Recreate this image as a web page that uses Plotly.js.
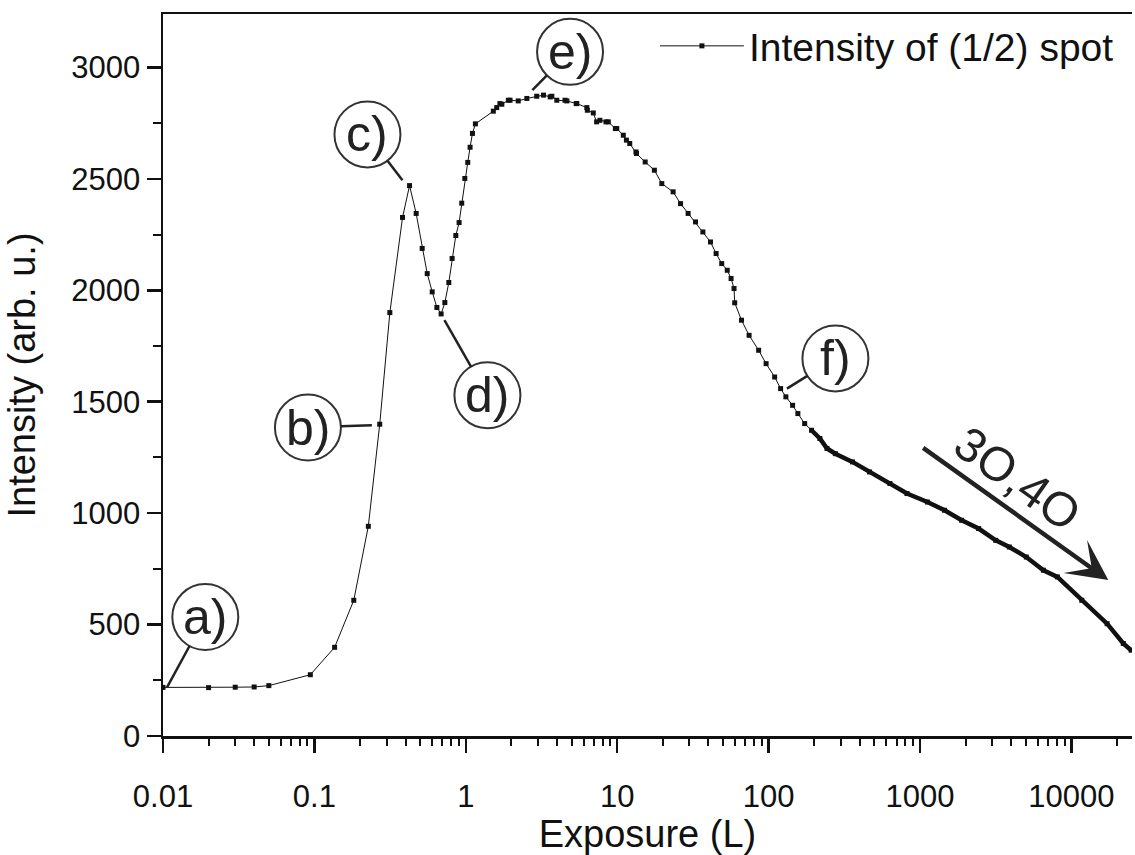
<!DOCTYPE html>
<html>
<head>
<meta charset="utf-8">
<script src="https://cdn.plot.ly/plotly-3.0.1.min.js"></script>
<style>html,body{margin:0;padding:0;background:#fff;}#chart{width:1135px;height:855px;}</style>
</head>
<body>
<div id="chart"></div>
<script>
// ---- data ----
const exposure = [
  0.01, 0.02, 0.03, 0.04, 0.05, 0.094, 0.136, 0.182, 0.227, 0.27,
  0.315, 0.382, 0.425, 0.47, 0.515, 0.556, 0.60, 0.644, 0.687, 0.727,
  0.772, 0.812, 0.859, 0.903, 0.94, 0.985, 1.03, 1.067, 1.106, 1.157,
  1.52, 1.60, 1.68, 1.73, 1.91, 1.96, 2.22, 2.53, 2.94, 3.26,
  3.61, 3.70, 3.99, 4.52, 4.65, 5.36, 5.41, 6.30, 6.35, 6.95,
  7.31, 7.69, 8.43, 8.73, 9.72, 9.93, 10.97, 11.5, 12.1, 13.3,
  13.4, 15.3, 17.6, 19.7, 23.4, 26.2, 29.4, 32.9, 36.8, 41.3,
  45, 49, 53.3, 56.5, 59.1, 59.7, 66.2, 74.3, 85.9, 96.2,
  109.6, 120, 130, 144, 156, 173, 192, 218, 243, 276,
  358, 464, 633, 820, 1119, 1452, 1883, 2438, 3162, 3890,
  5035, 6530, 8070, 11700, 17200, 22000, 24800
];
const intensity = [
  218, 217, 219, 220, 226, 275, 398, 609, 941, 1399,
  1900, 2327, 2470, 2345, 2188, 2075, 1993, 1923, 1894, 1945,
  2035, 2143, 2246, 2304, 2391, 2502, 2574, 2642, 2704, 2747,
  2804, 2820, 2838, 2835, 2853, 2853, 2850, 2861, 2871, 2876,
  2868, 2871, 2853, 2853, 2850, 2838, 2838, 2820, 2808, 2796,
  2756, 2763, 2756, 2756, 2726, 2726, 2696, 2674, 2659, 2621,
  2614, 2576, 2539, 2479, 2442, 2389, 2345, 2307, 2262, 2217,
  2165, 2120, 2090, 2053, 2008, 1944, 1866, 1798, 1731, 1671,
  1611, 1559, 1522, 1484, 1447, 1402, 1372, 1335, 1290, 1267,
  1230, 1185, 1133, 1088, 1050, 1013, 968, 931, 878, 848,
  803, 744, 714, 609, 504, 415, 385
];
const seriesName = 'Intensity of (1/2) spot';
const xTickVals = [0.01, 0.1, 1, 10, 100, 1000, 10000];
const xTickText = ['0.01', '0.1', '1', '10', '100', '1000', '10000'];
const yTickVals = [0, 500, 1000, 1500, 2000, 2500, 3000];
const yTickText = ['0', '500', '1000', '1500', '2000', '2500', '3000'];
const yMinorVals = [250, 750, 1250, 1750, 2250, 2750, 3250];
const calloutLabels = ['a)', 'b)', 'c)', 'd)', 'e)', 'f)'];
const calloutExposure = [0.01, 0.27, 0.425, 0.687, 2.53, 120];
const arrowLabel = '3O,4O';

// ---- decoration geometry (pixel offsets from the labelled point, screen axes) ----
const calloutGeom = [
  {cx: 42.3, cy: -70.4, sx: 4, sy: 0},
  {cx: -71.8, cy: 3.3, sx: -7.8, sy: 1},
  {cx: -42.1, cy: -51.1, sx: -7.1, sy: -5.4},
  {cx: 46.3, cy: 81.3, sx: 3.3, sy: 6.3},
  {cx: 43.2, cy: -46.6, sx: 5.5, sy: -8.3},
  {cx: 54.8, cy: -30.1, sx: 6.3, sy: 0}
];
const R = 33;

// minor ticks for the log axis
const xMinorVals = [];
for (let p = -2; p <= 4; p++) {
  for (let m = 2; m <= 9; m++) xMinorVals.push(m * Math.pow(10, p));
}

const FONT = 'Liberation Sans, Arial, Helvetica, sans-serif';
const INK = '#111111';

const tailX = [], tailY = [];
exposure.forEach((x, i) => { if (x >= 180) { tailX.push(x); tailY.push(intensity[i]); } });

const traces = [
  {
    x: exposure, y: intensity, type: 'scatter', mode: 'lines+markers',
    name: seriesName,
    line: {color: INK, width: 1},
    marker: {symbol: 'square', size: 5, color: INK}
  },
  {
    x: tailX, y: tailY, type: 'scatter', mode: 'lines',
    showlegend: false, hoverinfo: 'skip',
    line: {color: INK, width: 4.5}
  }
];

function f(v) { return v.toFixed(2); }
function circlePath(cx, cy, r) {
  // cy in upward pixel units
  const k = 0.5523 * r;
  return 'M' + f(cx + r) + ',' + f(cy) +
    ' C' + f(cx + r) + ',' + f(cy + k) + ' ' + f(cx + k) + ',' + f(cy + r) + ' ' + f(cx) + ',' + f(cy + r) +
    ' C' + f(cx - k) + ',' + f(cy + r) + ' ' + f(cx - r) + ',' + f(cy + k) + ' ' + f(cx - r) + ',' + f(cy) +
    ' C' + f(cx - r) + ',' + f(cy - k) + ' ' + f(cx - k) + ',' + f(cy - r) + ' ' + f(cx) + ',' + f(cy - r) +
    ' C' + f(cx + k) + ',' + f(cy - r) + ' ' + f(cx + r) + ',' + f(cy - k) + ' ' + f(cx + r) + ',' + f(cy) + ' Z';
}

const shapes = [];
const annotations = [];
calloutLabels.forEach((lab, k) => {
  const idx = exposure.indexOf(calloutExposure[k]);
  const ax = exposure[idx], ay = intensity[idx];
  const g = calloutGeom[k];
  shapes.push({
    type: 'path', xref: 'x', yref: 'y', xsizemode: 'pixel', ysizemode: 'pixel',
    xanchor: ax, yanchor: ay,
    path: circlePath(g.cx, -g.cy, R),
    line: {color: '#333333', width: 2}, fillcolor: 'rgba(0,0,0,0)'
  });
  const vx = g.cx - g.sx, vy = g.cy - g.sy, L = Math.hypot(vx, vy);
  const ex = g.cx - R * vx / L, ey = g.cy - R * vy / L;
  shapes.push({
    type: 'path', xref: 'x', yref: 'y', xsizemode: 'pixel', ysizemode: 'pixel',
    xanchor: ax, yanchor: ay,
    path: 'M' + f(g.sx) + ',' + f(-g.sy) + ' L' + f(ex) + ',' + f(-ey),
    line: {color: '#222222', width: 2.5}
  });
  annotations.push({
    xref: 'x', yref: 'y', x: Math.log10(ax), y: ay,
    xshift: g.cx, yshift: -g.cy, showarrow: false,
    text: lab, xanchor: 'center', yanchor: 'middle',
    font: {family: FONT, size: 50, color: '#222222'}
  });
});

annotations.push({
  xref: 'paper', yref: 'paper', x: 0.9755, y: 0.216,
  ax: -186.6, ay: -133.3, text: '', showarrow: true,
  arrowhead: 3, arrowsize: 1.5, arrowwidth: 4.5, arrowcolor: '#222222'
});
annotations.push({
  xref: 'paper', yref: 'paper', x: 0.8817, y: 0.3569,
  text: arrowLabel, showarrow: false, textangle: 35.5,
  xanchor: 'center', yanchor: 'middle',
  font: {family: FONT, size: 48, color: '#222222'}
});

const layout = {
  width: 1135, height: 855,
  margin: {l: 163, r: 3, t: 14, b: 119},
  paper_bgcolor: '#ffffff', plot_bgcolor: '#ffffff',
  font: {family: FONT, color: INK},
  showlegend: true,
  legend: {
    x: 0.9865, xanchor: 'right', y: 1.0, yanchor: 'top',
    bgcolor: 'rgba(0,0,0,0)', borderwidth: 0,
    font: {family: FONT, size: 39, color: INK},
    itemwidth: 84
  },
  xaxis: {
    type: 'log', range: [-2, 4.4],
    tickmode: 'array', tickvals: xTickVals, ticktext: xTickText,
    ticks: 'outside', ticklen: 14, tickwidth: 2.5, tickcolor: INK,
    ticklabelstandoff: 17,
    showline: true, linewidth: 2.5, linecolor: INK, mirror: true,
    showgrid: false, zeroline: false,
    tickfont: {family: FONT, size: 31, color: INK},
    minor: {tickmode: 'array', tickvals: xMinorVals, ticks: 'outside', ticklen: 7, tickwidth: 2, tickcolor: INK, showgrid: false},
    title: {text: 'Exposure (L)', font: {family: FONT, size: 38, color: INK}, standoff: 10}
  },
  yaxis: {
    range: [0, 3240],
    tickmode: 'array', tickvals: yTickVals, ticktext: yTickText,
    ticks: 'outside', ticklen: 14, tickwidth: 2.5, tickcolor: INK,
    showline: true, linewidth: 2.5, linecolor: INK,
    showgrid: false, zeroline: false,
    tickfont: {family: FONT, size: 31, color: INK},
    minor: {tickmode: 'array', tickvals: yMinorVals, ticks: 'outside', ticklen: 8, tickwidth: 2, tickcolor: INK, showgrid: false},
    title: {text: 'Intensity (arb. u.)', font: {family: FONT, size: 38, color: INK}, standoff: 24}
  },
  shapes: shapes,
  annotations: annotations
};

Plotly.newPlot('chart', traces, layout, {displayModeBar: false, staticPlot: true});
</script>
</body>
</html>
